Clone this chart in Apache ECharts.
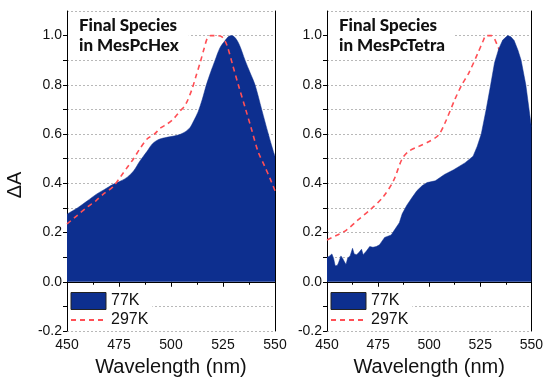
<!DOCTYPE html>
<html>
<head>
<meta charset="utf-8">
<script src="https://cdn.jsdelivr.net/npm/echarts@6/dist/echarts.min.js"></script>
<style>
  html, body { margin: 0; padding: 0; background: #fff; }
  #chart { width: 546px; height: 382px; }
</style>
</head>
<body>
<div id="chart"></div>
<script>
// panel titles and legend names
var panelTitles = ["Final Species\nin MesPcHex", "Final Species\nin MesPcTetra"];
var seriesNames = ["77K", "297K"];
var xTicks = [450, 475, 500, 525, 550];

// [wavelength nm, dA]
var hex77 = [
  [450, 0.275], [455, 0.30], [460, 0.33], [464, 0.355], [468, 0.375], [472, 0.395],
  [476, 0.41], [479, 0.425], [482, 0.45], [485, 0.49], [488.5, 0.53], [491, 0.56],
  [494, 0.578], [497, 0.585], [500, 0.59], [503, 0.595], [506, 0.605], [509, 0.625],
  [511, 0.655], [513, 0.69], [515, 0.74], [517, 0.80], [519, 0.85], [521.2, 0.90],
  [523.5, 0.95], [526, 0.98], [527.8, 0.997], [529.2, 1.0], [531, 0.99], [533, 0.96],
  [535.6, 0.90], [538, 0.85], [540.4, 0.80], [543.6, 0.70], [546.8, 0.60], [549.2, 0.53],
  [550, 0.51]
];
var hex297 = [
  [450, 0.235], [455, 0.27], [460, 0.305], [464, 0.33], [468, 0.36], [472, 0.385],
  [476, 0.43], [479, 0.465], [482, 0.50], [485, 0.54], [488.5, 0.58], [492, 0.60],
  [495, 0.625], [498, 0.64], [501, 0.66], [504, 0.69], [507, 0.72], [510, 0.78],
  [512, 0.835], [514, 0.89], [516, 0.95], [517.5, 0.99], [519, 1.0], [522, 1.0],
  [524.5, 0.995], [526.8, 0.963], [529.8, 0.876], [532.5, 0.796], [535.8, 0.703],
  [538.6, 0.623], [541.8, 0.53], [545, 0.47], [547.6, 0.42], [550, 0.37]
];
var tetra77 = [
  [450, 0.10], [451, 0.103], [452.4, 0.113], [453.2, 0.096], [454, 0.065], [455, 0.066],
  [455.6, 0.076], [456.8, 0.105], [457.6, 0.096], [458.4, 0.083], [459.3, 0.07],
  [460.1, 0.096], [461.3, 0.105], [462.5, 0.136], [463.3, 0.113], [464.5, 0.11],
  [465.7, 0.12], [466.9, 0.132], [467.7, 0.11], [469.3, 0.125], [470.9, 0.143],
  [472.5, 0.14], [474.1, 0.143], [475.7, 0.15], [476.5, 0.16], [478.2, 0.18],
  [479.8, 0.185], [481.4, 0.19], [483, 0.21], [485.4, 0.24], [486.8, 0.276],
  [489, 0.31], [491.7, 0.343], [494, 0.37], [496.5, 0.39], [499, 0.403], [503, 0.41],
  [507.5, 0.436], [512, 0.455], [517.5, 0.483], [521.5, 0.51], [523.5, 0.55],
  [525.5, 0.60], [527.9, 0.70], [530.1, 0.80], [532, 0.89], [534, 0.945],
  [536, 0.982], [538.4, 1.0], [540, 0.995], [541.6, 0.98], [543.5, 0.94],
  [545, 0.90], [547.3, 0.80], [548.9, 0.70], [550, 0.63]
];
var tetra297 = [
  [450, 0.17], [455, 0.19], [459.5, 0.21], [465, 0.25], [470.8, 0.29], [477.3, 0.343],
  [482.5, 0.41], [486.8, 0.50], [490, 0.53], [494.9, 0.55], [500, 0.57], [504.6, 0.596],
  [508, 0.65], [512.7, 0.743], [516, 0.80], [519.5, 0.85], [523.9, 0.93], [526.3, 0.976],
  [528, 1.0], [530.5, 1.0], [533.6, 0.956], [537, 0.88], [540, 0.80], [543, 0.70],
  [546, 0.60], [550, 0.50]
];

var navy = "#0d2f8f";
var red = "#ff4f55";
var axisFont = "Liberation Sans";

var chart = echarts.init(document.getElementById("chart"), null, { renderer: "canvas" });

var grids = [
  { left: 67, right: 271, top: 11, bottom: 47 },
  { left: 327, right: 12, top: 11, bottom: 47 }
];

function makeX(i) {
  return {
    type: "value", gridIndex: i, min: xTicks[0], max: xTicks[xTicks.length - 1], interval: 25,
    name: "Wavelength (nm)", nameLocation: "middle", nameGap: 26,
    nameTextStyle: { fontFamily: axisFont, fontSize: 20, color: "#111" },
    axisLine: { lineStyle: { color: "#000", width: 1 } },
    axisTick: { inside: false, length: 5, lineStyle: { color: "#000" } },
    minorTick: { show: true, splitNumber: 2, length: 3, lineStyle: { color: "#000" } },
    axisLabel: { fontFamily: axisFont, fontSize: 14, color: "#111", margin: 7 },
    splitLine: { show: false }
  };
}
// top and right frame lines of each panel
function frameX(i) {
  return {
    type: "value", gridIndex: i, position: "top", min: 450, max: 550,
    axisLine: { show: true, lineStyle: { color: "#000", width: 1 } },
    axisTick: { show: false }, axisLabel: { show: false }, splitLine: { show: false }
  };
}
function frameY(i) {
  return {
    type: "value", gridIndex: i, position: "right", min: -0.2, max: 1.1,
    axisLine: { show: true, lineStyle: { color: "#000", width: 1 } },
    axisTick: { show: false }, axisLabel: { show: false }, splitLine: { show: false }
  };
}
function makeY(i) {
  return {
    type: "value", gridIndex: i, min: -0.2, max: 1.1, interval: 0.1,
    axisLine: { show: true, lineStyle: { color: "#000", width: 1 } },
    axisTick: { show: true, inside: false, length: 4, lineStyle: { color: "#000" } },
    axisLabel: {
      fontFamily: axisFont, fontSize: 14, color: "#111", margin: 5, showMaxLabel: false,
      formatter: function(v) {
        var k = Math.round(v * 10);
        return k % 2 === 0 ? (k / 10).toFixed(1) : "";
      }
    },
    splitLine: { show: true, lineStyle: { color: "#b8b8b8", width: 1, type: [2, 2] } }
  };
}

function areaSeries(i, data, z) {
  return {
    name: seriesNames[0], type: "line", xAxisIndex: i, yAxisIndex: i, data: data,
    symbol: "none", smooth: i === 0 ? 0.3 : false, z: z,
    lineStyle: { color: navy, width: 0.5 },
    itemStyle: { color: navy },
    areaStyle: { color: navy, opacity: 1 }
  };
}
function dashSeries(i, data, z) {
  return {
    name: seriesNames[1], type: "line", xAxisIndex: i, yAxisIndex: i, data: data,
    symbol: "none", smooth: 0.3, z: z,
    itemStyle: { color: red },
    lineStyle: { color: red, width: 1.6, type: [5, 4] }
  };
}

function makeLegend(left) {
  return {
    left: left, top: 290, orient: "vertical", itemGap: 2, itemWidth: 35, itemHeight: 17,
    backgroundColor: "#fff", padding: [2, 4, 2, 2],
    textStyle: { fontFamily: axisFont, fontSize: 16, color: "#111" },
    data: [
      { name: seriesNames[0], icon: "rect", itemStyle: { color: navy, borderColor: "#222", borderWidth: 1 } },
      { name: seriesNames[1], itemStyle: { opacity: 0 } }
    ],
    selectedMode: false
  };
}
function makeTitle(left, text) {
  return {
    text: text, left: left, top: 12, padding: [4, 10, 3, 11], backgroundColor: "#fff",
    textStyle: { fontFamily: "Lato", fontWeight: 900, fontSize: 17, lineHeight: 20, color: "#111" }
  };
}

chart.setOption({
  animation: false,
  backgroundColor: "#fff",
  grid: grids,
  xAxis: [makeX(0), makeX(1), frameX(0), frameX(1)],
  yAxis: [makeY(0), makeY(1), frameY(0), frameY(1)],
  title: [makeTitle(68, panelTitles[0]), makeTitle(328, panelTitles[1])],
  legend: [makeLegend(68), makeLegend(328)],
  graphic: [{
    type: "text", x: 15, y: 185, rotation: Math.PI / 2,
    style: { text: "ΔA", font: "20px Liberation Sans", fill: "#111", align: "center", verticalAlign: "middle" }
  }],
  series: [
    areaSeries(0, hex77, 2),
    dashSeries(0, hex297, 3),
    dashSeries(1, tetra297, 2),
    areaSeries(1, tetra77, 3)
  ]
});
</script>
</body>
</html>
